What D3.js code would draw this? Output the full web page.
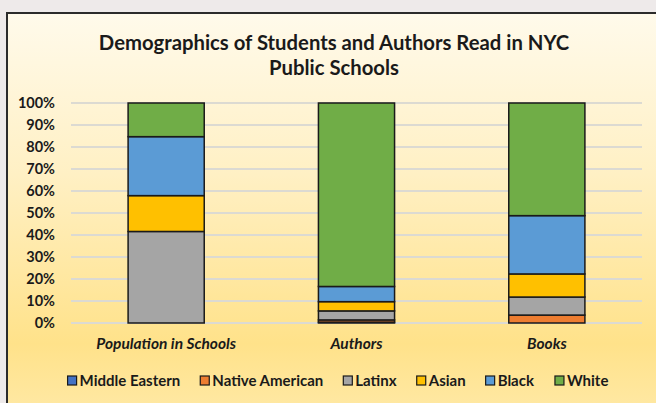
<!DOCTYPE html>
<html>
<head>
<meta charset="utf-8">
<script src="https://cdn.jsdelivr.net/npm/d3@7"></script>
<style>
    body { margin: 0; background: #eeeaea; }
    svg { display: block; }
    text { font-family: Lato, "Open Sans", sans-serif; fill: #1a1a1a; }
</style>
</head>
<body>
<div id="chart"></div>
<script>
const categories = ['Population in Schools', 'Authors', 'Books'];
const seriesNames = ['Middle Eastern', 'Native American', 'Latinx', 'Asian', 'Black', 'White'];
const middleEastern = [0, 0.4, 0];
const nativeAmerican = [0, 1.0, 3.6];
const latinx = [41.6, 4.1, 8.2];
const asian = [16.3, 4.2, 10.5];
const black = [26.8, 6.9, 26.5];
const white = [15.3, 83.4, 51.2];
const yTicks = [0, 10, 20, 30, 40, 50, 60, 70, 80, 90, 100];
const colors = ['#4472c4', '#ed7d31', '#a5a5a5', '#ffc000', '#5b9bd5', '#70ad47'];

const width = 656, height = 403;
const margin = { top: 103, right: 14, bottom: 80, left: 71 };

const svg = d3.select('#chart')
    .append('svg')
    .attr('width', width)
    .attr('height', height);

// Background gradient of the chart area.
const grad = svg.append('defs')
    .append('linearGradient')
    .attr('id', 'bg')
    .attr('x1', 0).attr('y1', 0).attr('x2', 0).attr('y2', 1);
grad.append('stop').attr('offset', '0%').attr('stop-color', '#fffaeb');
grad.append('stop').attr('offset', '40%').attr('stop-color', '#fff0c4');
grad.append('stop').attr('offset', '82%').attr('stop-color', '#ffe28a');
grad.append('stop').attr('offset', '100%').attr('stop-color', '#ffe9a6');

svg.append('rect')
    .attr('x', 7).attr('y', 13)
    .attr('width', width)
    .attr('height', height)
    .attr('fill', 'url(#bg)')
    .attr('stroke', '#2b2b2b')
    .attr('stroke-width', 2);

// Title.
svg.append('text')
    .attr('x', 334).attr('y', 50)
    .attr('text-anchor', 'middle')
    .style('font-size', '20.3px')
    .style('font-weight', 'bold')
    .text('Demographics of Students and Authors Read in NYC');
svg.append('text')
    .attr('x', 334).attr('y', 75)
    .attr('text-anchor', 'middle')
    .style('font-size', '20.3px')
    .style('font-weight', 'bold')
    .text('Public Schools');

const x = d3.scaleBand()
    .domain(categories)
    .range([margin.left, width - margin.right])
    .paddingInner(0.6)
    .paddingOuter(0.3);

const y = d3.scaleLinear()
    .domain([0, 100])
    .range([height - margin.bottom, margin.top]);

// Gridlines.
svg.append('g')
    .classed('grid', true)
    .selectAll('line')
    .data(yTicks)
    .join('line')
    .attr('x1', margin.left)
    .attr('x2', width - margin.right)
    .attr('y1', (d) => y(d))
    .attr('y2', (d) => y(d))
    .attr('stroke', '#dcdad2')
    .attr('stroke-width', 2);

// Y axis labels.
const yAxis = svg.append('g')
    .attr('transform', `translate(${margin.left - 13},0)`)
    .call(d3.axisLeft(y).tickValues(yTicks).tickSize(0).tickFormat((d) => d + '%'));
yAxis.select('.domain').remove();
yAxis.selectAll('text')
    .style('font-family', 'Lato, sans-serif')
    .style('font-size', '14.5px')
    .style('font-weight', 'bold')
    .attr('fill', '#1a1a1a');

// Stack the series.
const table = categories.map((c, i) => ({
    category: c,
    'Middle Eastern': middleEastern[i],
    'Native American': nativeAmerican[i],
    'Latinx': latinx[i],
    'Asian': asian[i],
    'Black': black[i],
    'White': white[i]
}));
const stacked = d3.stack().keys(seriesNames)(table);

svg.append('g')
    .classed('bars', true)
    .selectAll('g')
    .data(stacked)
    .join('g')
    .attr('fill', (d, i) => colors[i])
    .selectAll('rect')
    .data((d) => d.filter((s) => s[1] - s[0] > 0))
    .join('rect')
    .attr('x', (d) => x(d.data.category))
    .attr('width', x.bandwidth())
    .attr('y', (d) => y(d[1]))
    .attr('height', (d) => y(d[0]) - y(d[1]))
    .attr('stroke', '#1a1a1a')
    .attr('stroke-width', 1.5);

// X axis labels.
const xAxis = svg.append('g')
    .attr('transform', `translate(0,${height - margin.bottom + 12})`)
    .call(d3.axisBottom(x).tickSize(0));
xAxis.select('.domain').remove();
xAxis.selectAll('text')
    .style('font-family', 'Lato, sans-serif')
    .style('font-size', '15.5px')
    .style('font-weight', 'bold')
    .style('font-style', 'italic')
    .attr('fill', '#1a1a1a');

// Legend.
const legend = svg.append('g').classed('legend', true);
const items = legend.selectAll('g')
    .data(seriesNames)
    .join('g');
items.append('rect')
    .attr('width', 9).attr('height', 9)
    .attr('y', -10)
    .attr('fill', (d, i) => colors[i])
    .attr('stroke', '#1a1a1a')
    .attr('stroke-width', 1.2);
items.append('text')
    .attr('x', 12)
    .attr('y', 0)
    .style('font-size', '15px')
    .style('font-weight', 'bold')
    .text((d) => d);

let offset = 0;
items.each(function () {
    const w = this.getBBox().width;
    d3.select(this).attr('transform', `translate(${offset},386)`);
    offset += w + 20;
});
legend.attr('transform', `translate(${338 - (offset - 20) / 2},0)`);
</script>
</body>
</html>
